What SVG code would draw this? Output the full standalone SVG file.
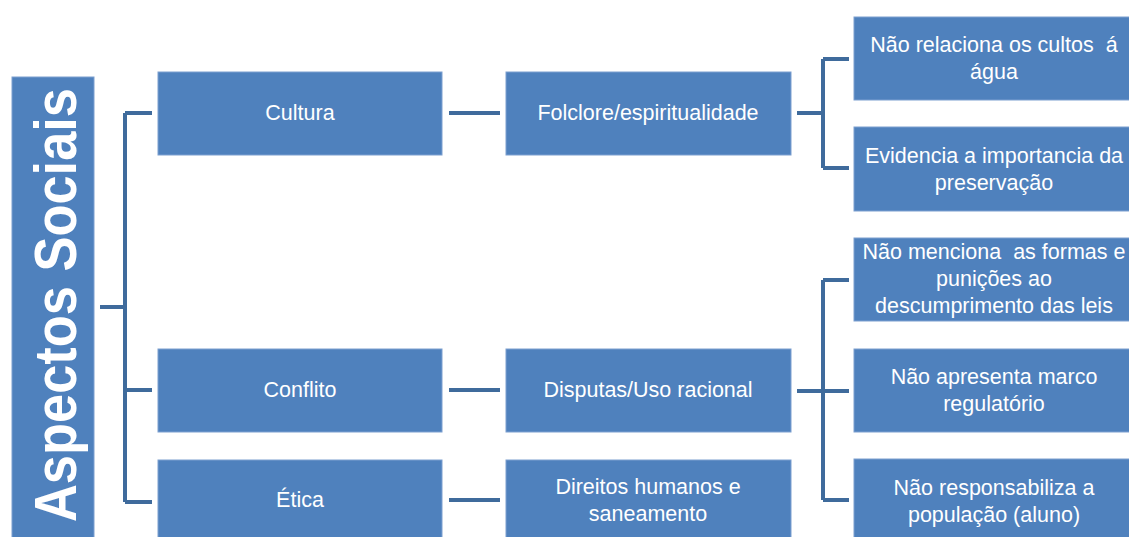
<svg xmlns="http://www.w3.org/2000/svg" width="1129" height="537" viewBox="0 0 1129 537">
<style>
.box{fill:#4f81bd;stroke:#7d9fd0;stroke-width:1}
.t{fill:#ffffff;font-family:"Liberation Sans",Arial,sans-serif;font-size:21.5px;text-anchor:middle;white-space:pre}
.root{fill:#ffffff;font-family:"Liberation Sans",Arial,sans-serif;font-weight:bold;font-size:60px;text-anchor:middle}
.c{fill:none;stroke:#3f6b9c;stroke-width:4}
</style>
<rect width="1129" height="537" fill="#ffffff"/>
<g id="connectors">
<path class="c" d="M100 307H125M125 113V502M125 113H152M125 390H152M125 502H152"/>
<path class="c" d="M449 113H500M449 390H500M449 500H500"/>
<path class="c" d="M797 113H823M823 59V168M823 59H849M823 168H849"/>
<path class="c" d="M797 391H823M823 280V500M823 280H849M823 391H849M823 500H849"/>
</g>
<g id="root">
<rect class="box" x="12" y="77" width="82" height="470"/>
<text class="root" transform="translate(76,305) rotate(-90)" textLength="434" lengthAdjust="spacingAndGlyphs">Aspectos Sociais</text>
</g>
<g id="cultura"><rect class="box" x="158" y="72" width="284" height="83"/><text class="t" x="300" y="120">Cultura</text></g>
<g id="conflito"><rect class="box" x="158" y="349" width="284" height="83"/><text class="t" x="300" y="397">Conflito</text></g>
<g id="etica"><rect class="box" x="158" y="460" width="284" height="87"/><text class="t" x="300" y="507">Ética</text></g>
<g id="folclore"><rect class="box" x="506" y="72" width="285" height="83"/><text class="t" x="648" y="120">Folclore/espiritualidade</text></g>
<g id="disputas"><rect class="box" x="506" y="349" width="285" height="83"/><text class="t" x="648" y="397">Disputas/Uso racional</text></g>
<g id="direitos"><rect class="box" x="506" y="460" width="285" height="87"/><text class="t" x="648" y="494">Direitos humanos e</text><text class="t" x="648" y="521">saneamento</text></g>
<g id="n1"><rect class="box" x="854" y="17" width="285" height="83"/><text class="t" x="994" y="52">Não relaciona os cultos  á</text><text class="t" x="994" y="79">água</text></g>
<g id="n2"><rect class="box" x="854" y="127" width="285" height="84"/><text class="t" x="994" y="163">Evidencia a importancia da</text><text class="t" x="994" y="190">preservação</text></g>
<g id="n3"><rect class="box" x="854" y="238" width="285" height="83"/><text class="t" x="994" y="259">Não menciona  as formas e</text><text class="t" x="994" y="286">punições ao</text><text class="t" x="994" y="313">descumprimento das leis</text></g>
<g id="n4"><rect class="box" x="854" y="349" width="285" height="83"/><text class="t" x="994" y="384">Não apresenta marco</text><text class="t" x="994" y="411">regulatório</text></g>
<g id="n5"><rect class="box" x="854" y="459" width="285" height="88"/><text class="t" x="994" y="495">Não responsabiliza a</text><text class="t" x="994" y="522">população (aluno)</text></g>
</svg>
